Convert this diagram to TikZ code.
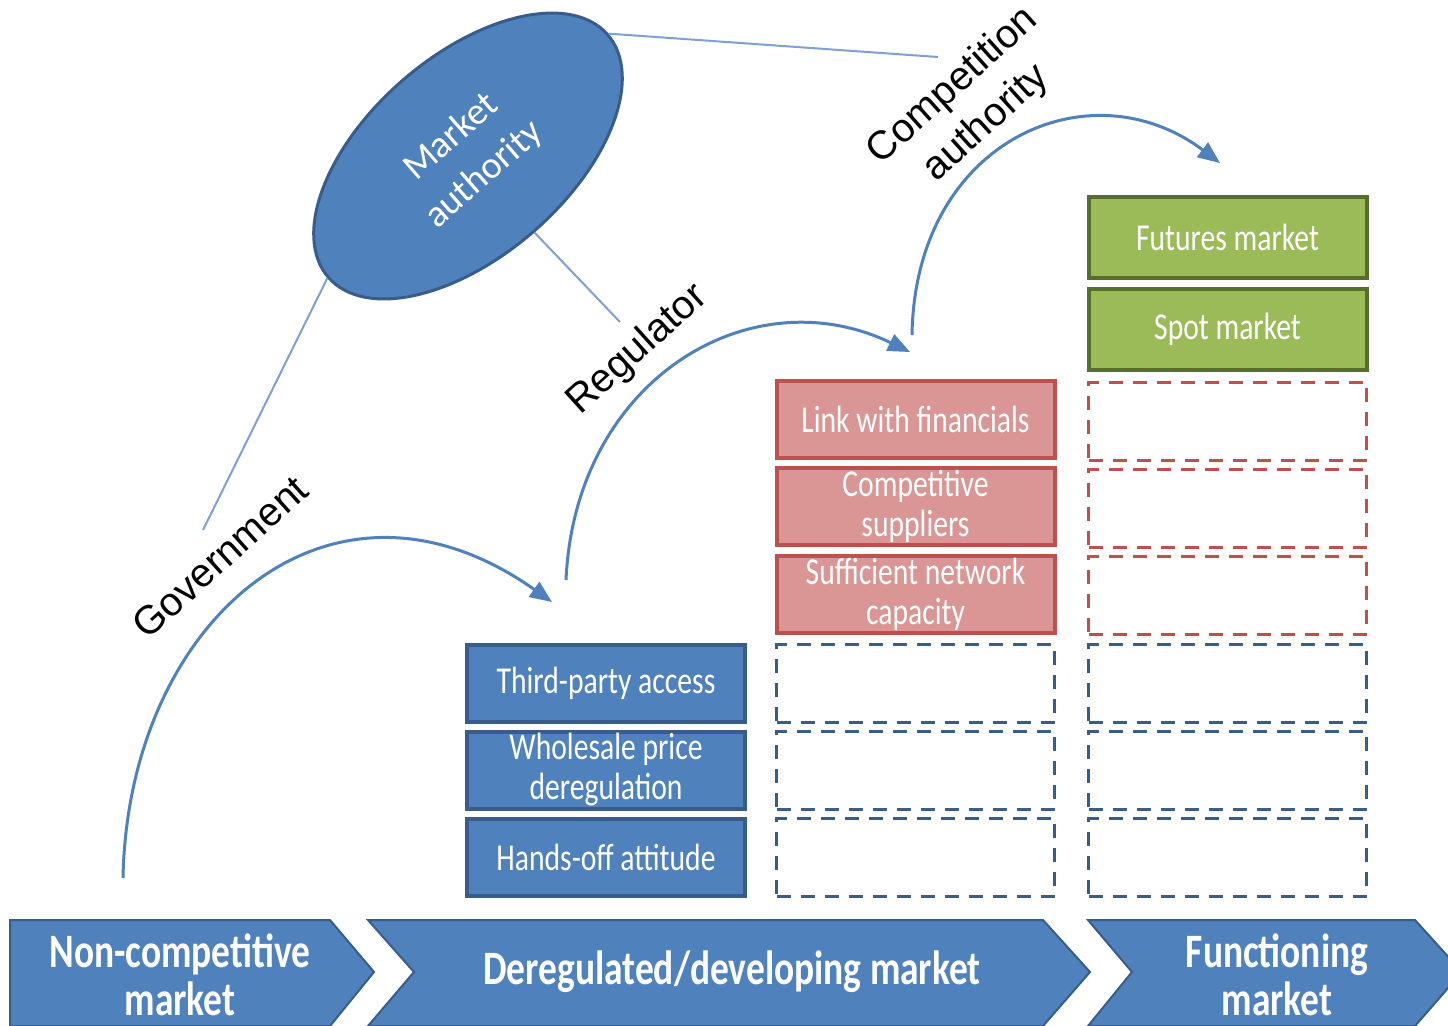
\documentclass[tikz,border=0pt]{standalone}
\usepackage{fontspec}
\setmainfont{Carlito}
\newfontfamily\condfont[FakeStretch=0.78]{Carlito}
\newfontfamily\labfont{Liberation Sans}
\usetikzlibrary{shapes.geometric,arrows.meta}
\definecolor{cblue}{HTML}{4F81BD}
\definecolor{dblue}{HTML}{385D8A}
\definecolor{rfill}{HTML}{D99694}
\definecolor{rdraw}{HTML}{C0504D}
\definecolor{gfill}{HTML}{9BBB59}
\definecolor{gdraw}{HTML}{56702C}
\definecolor{lline}{HTML}{7FA0D2}
\begin{document}
\begin{tikzpicture}[x=0.5pt,y=-0.5pt,
  box/.style={rectangle, minimum width=139pt, minimum height=38.5pt, inner sep=0pt, line width=2pt, text=white, align=center, font=\condfont\fontsize{19pt}{20pt}\selectfont},
  bluebox/.style={box, fill=cblue, draw=dblue},
  redbox/.style={box, fill=rfill, draw=rdraw},
  greenbox/.style={box, fill=gfill, draw=gdraw, minimum height=40.5pt},
  dashbox/.style={rectangle, minimum width=139pt, minimum height=39pt, inner sep=0pt, line width=1.5pt, dash pattern=on 7pt off 5pt, fill=white},
  bluedash/.style={dashbox, draw=dblue},
  reddash/.style={dashbox, draw=rdraw},
  chev/.style={fill=cblue, draw=dblue, line width=1pt},
  chevtext/.style={text=white, align=center, inner sep=0pt, font=\condfont\bfseries\fontsize{24pt}{24pt}\selectfont},
  lab/.style={font=\labfont\fontsize{20pt}{25pt}\selectfont, align=center, rotate=42, inner sep=0pt},
  flow/.style={draw=cblue, line width=1.5pt, -{Triangle[length=11pt,width=9pt]}},
  tieline/.style={draw=lline, line width=1pt},
]
\useasboundingbox (0,0) rectangle (1448,1025);
\fill[white] (0,0) rectangle (1448,1025);

% chevrons
\path[chev] (10,920) -- (330,920) -- (374,972) -- (330,1026) -- (10,1026) -- cycle;
\path[chev] (368,920) -- (1043,920) -- (1090,972) -- (1043,1026) -- (368,1026) -- (414,972) -- cycle;
\path[chev] (1088,920) -- (1415,920) -- (1462,972) -- (1415,1026) -- (1088,1026) -- (1132,972) -- cycle;
\node[chevtext] (c1) at (180,975) {Non-competitive\\market};
\node[chevtext] (c2) at (732,972) {Deregulated/developing market};
\node[chevtext] (c3) at (1277,975) {Functioning\\market};

% left column
\node[bluebox] (tpa) at (606,683.5) {Third-party access};
\node[bluebox] (wpd) at (606,770) {Wholesale price\\deregulation};
\node[bluebox] (hoa) at (606,857) {Hands-off attitude};

% middle column
\node[redbox] (lwf) at (915.5,419) {Link with financials};
\node[redbox] (cs) at (915.5,506.5) {Competitive\\suppliers};
\node[redbox] (snc) at (915.5,594) {Sufficient network\\capacity};
\node[bluedash] (m1) at (915.5,683.5) {};
\node[bluedash] (m2) at (915.5,770) {};
\node[bluedash] (m3) at (915.5,857) {};

% right column
\node[greenbox] (fm) at (1227.5,237.5) {Futures market};
\node[greenbox] (sm) at (1227.5,329.5) {Spot market};
\node[reddash] (r1) at (1227.5,421) {};
\node[reddash] (r2) at (1227.5,508) {};
\node[reddash] (r3) at (1227.5,595) {};
\node[bluedash] (r4) at (1227.5,683.5) {};
\node[bluedash] (r5) at (1227.5,770) {};
\node[bluedash] (r6) at (1227.5,857) {};

% market authority
\coordinate (t1) at (938,57);
\coordinate (t2) at (620,322);
\coordinate (t3) at (203,530);
\node[ellipse, fill=cblue, draw=dblue, line width=1.5pt, minimum width=185pt, minimum height=100pt, rotate=41, inner sep=0pt, text=white, align=center, font=\fontsize{19pt}{25pt}\selectfont] (ma) at (468,156) {Market\\authority};
\draw[tieline] (ma.east) -- (t1);
\draw[tieline] (ma.south) -- (t2);
\draw[tieline] (ma.west) -- (t3);

% labels
\node[lab] (gov) at (220,557) {Government};
\node[lab] (reg) at (638,350) {Regulator};
\node[lab] (ca) at (970,105) {Competition\\authority};

% flow arrows
\coordinate (gs) at (123,878);
\coordinate (ge) at (552,602);
\coordinate (rs) at (566,580);
\coordinate (re) at (910,352);
\coordinate (cs0) at (912,335);
\coordinate (ce) at (1220,163);
\draw[flow] (gs) .. controls (128,620) and (330,445) .. (ge);
\draw[flow] (rs) .. controls (575,380) and (750,275) .. (re);
\draw[flow] (cs0) .. controls (915,140) and (1090,65) .. (ce);
\end{tikzpicture}
\end{document}
